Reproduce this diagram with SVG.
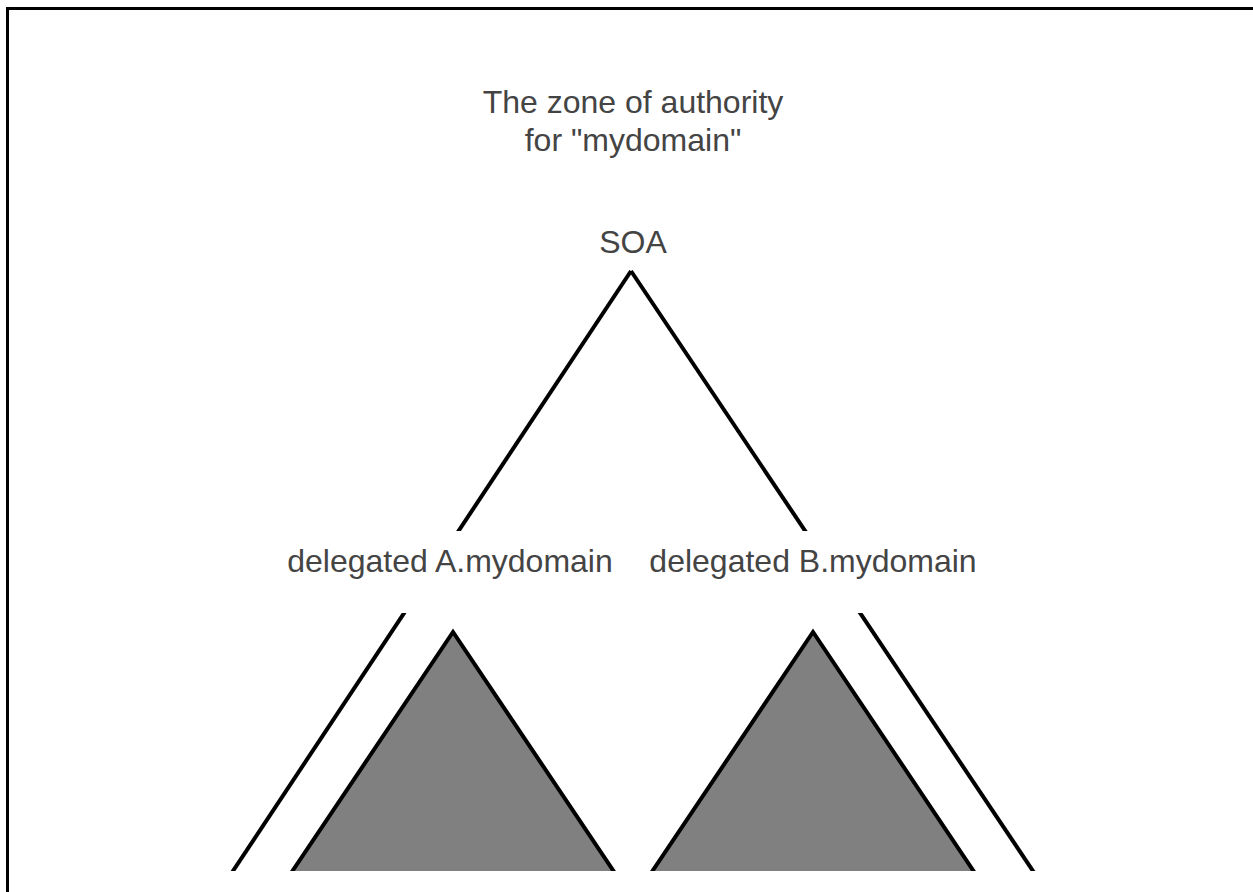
<svg xmlns="http://www.w3.org/2000/svg" width="1253" height="892" viewBox="0 0 1253 892">
<style>
.t{font-family:"Liberation Sans",Arial,sans-serif;font-size:32px;fill:#444;text-anchor:middle}
.ln{stroke:#000;stroke-width:4;fill:none}
.tri{stroke:#000;stroke-width:4;fill:#808080;stroke-linejoin:miter}
</style>
<defs>
<clipPath id="band"><rect x="0" y="0" width="1253" height="531"/><rect x="0" y="613" width="1253" height="258"/></clipPath>
<clipPath id="bot"><rect x="0" y="0" width="1253" height="871"/></clipPath>
</defs>
<rect id="frame" x="7.5" y="8.5" width="1300" height="950" fill="#fff" stroke="#000" stroke-width="3"/>
<g id="connectors" clip-path="url(#band)">
<line class="ln" x1="631" y1="271" x2="229" y2="877"/>
<line class="ln" x1="631" y1="271" x2="1037" y2="877"/>
</g>
<g id="zoneA" clip-path="url(#bot)">
<polygon class="tri" points="453,632 273,900 633,900"/>
</g>
<g id="zoneB" clip-path="url(#bot)">
<polygon class="tri" points="813,632 633,900 993,900"/>
</g>
<g id="title"><text class="t" x="633" y="113">The zone of authority</text><text class="t" x="633" y="151">for "mydomain"</text></g>
<g id="soa"><text class="t" x="633" y="253">SOA</text></g>
<g id="labelA"><text class="t" x="450" y="572">delegated A.mydomain</text></g>
<g id="labelB"><text class="t" x="813" y="572">delegated B.mydomain</text></g>
</svg>
